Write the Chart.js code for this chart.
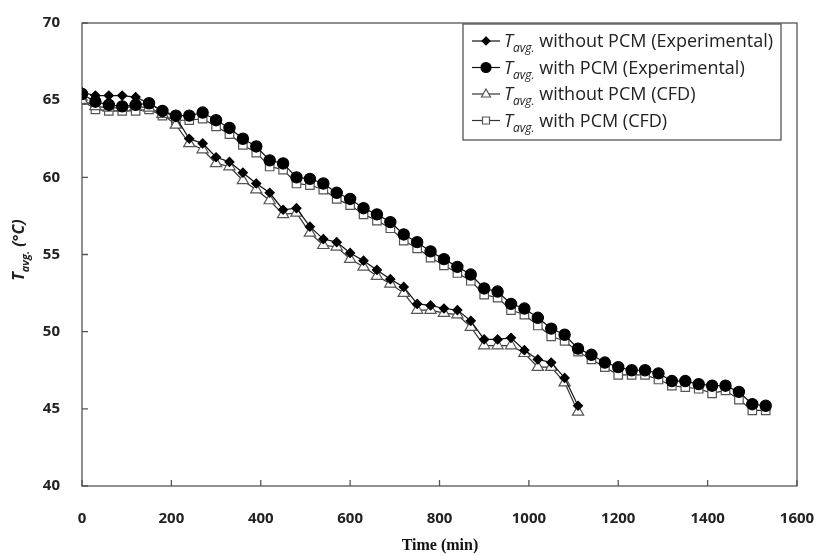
<!DOCTYPE html>
<html>
<head>
<meta charset="utf-8">
<script src="https://cdn.jsdelivr.net/npm/chart.js@4.4.1/dist/chart.umd.min.js"></script>
<style>
  html, body { margin: 0; padding: 0; background: #fff; }
  canvas { display: block; }
</style>
</head>
<body>
<canvas id="tempChart" width="816" height="556"></canvas>
<script>
// time stamps (min), readings every 30 min
var timeMin = [0, 30, 60, 90, 120, 150, 180, 210, 240, 270, 300, 330, 360, 390, 420, 450,
    480, 510, 540, 570, 600, 630, 660, 690, 720, 750, 780, 810, 840, 870, 900, 930, 960,
    990, 1020, 1050, 1080, 1110, 1140, 1170, 1200, 1230, 1260, 1290, 1320, 1350, 1380,
    1410, 1440, 1470, 1500, 1530];

// average temperature (deg C)
var noPcmExp = [65.5, 65.3, 65.3, 65.3, 65.2, 64.8, 64.3, 63.9, 62.5, 62.2, 61.3, 61.0,
    60.3, 59.6, 59.0, 57.9, 58.0, 56.8, 56.0, 55.8, 55.1, 54.6, 54.0, 53.4, 52.9, 51.8,
    51.7, 51.5, 51.4, 50.7, 49.5, 49.5, 49.6, 48.8, 48.2, 48.0, 47.0, 45.2];
var pcmExp = [65.4, 64.9, 64.7, 64.6, 64.7, 64.8, 64.3, 64.0, 64.0, 64.2, 63.7, 63.2,
    62.5, 62.0, 61.1, 60.9, 60.0, 59.9, 59.6, 59.0, 58.6, 58.0, 57.6, 57.1, 56.3, 55.8,
    55.2, 54.7, 54.2, 53.7, 52.8, 52.6, 51.8, 51.5, 50.9, 50.2, 49.8, 48.9, 48.5, 48.0,
    47.7, 47.5, 47.5, 47.3, 46.8, 46.8, 46.6, 46.5, 46.5, 46.1, 45.3, 45.2];
var noPcmCfd = [65.0, 64.6, 64.5, 64.5, 64.6, 64.5, 64.1, 63.4, 62.2, 61.8, 60.9, 60.7,
    59.8, 59.2, 58.5, 57.6, 57.7, 56.4, 55.6, 55.5, 54.7, 54.2, 53.6, 53.1, 52.5, 51.4,
    51.4, 51.2, 51.1, 50.3, 49.1, 49.1, 49.1, 48.6, 47.7, 47.7, 46.7, 44.8];
var pcmCfd = [65.0, 64.4, 64.3, 64.3, 64.3, 64.4, 64.0, 63.7, 63.7, 63.8, 63.3, 62.8,
    62.1, 61.6, 60.7, 60.5, 59.6, 59.5, 59.2, 58.6, 58.2, 57.6, 57.2, 56.7, 55.9, 55.4,
    54.8, 54.3, 53.8, 53.3, 52.4, 52.2, 51.4, 51.1, 50.4, 49.7, 49.4, 48.7, 48.2, 47.7,
    47.2, 47.2, 47.2, 46.9, 46.5, 46.4, 46.3, 46.0, 46.2, 45.6, 44.9, 44.9];

var seriesNames = ["without PCM (Experimental)", "with PCM (Experimental)",
    "without PCM (CFD)", "with PCM (CFD)"];
var xTicks = [0, 200, 400, 600, 800, 1000, 1200, 1400, 1600];
var yTicks = [40, 45, 50, 55, 60, 65, 70];

function toPoints(values) {
    return values.map(function (v, i) { return { x: timeMin[i], y: v }; });
}

var styles = [
    { pointStyle: "rectRot", pointRadius: 4.5, backgroundColor: "#000", borderColor: "#000", lineColor: "#111" },
    { pointStyle: "circle", pointRadius: 5.6, backgroundColor: "#000", borderColor: "#000", lineColor: "#111" },
    { pointStyle: "triangle", pointRadius: 6.5, backgroundColor: "#fff", borderColor: "#555", lineColor: "#333" },
    { pointStyle: "rect", pointRadius: 6, backgroundColor: "#fff", borderColor: "#555", lineColor: "#333" }
];

var allSeries = [noPcmExp, pcmExp, noPcmCfd, pcmCfd];
var datasets = allSeries.map(function (vals, i) {
    var s = styles[i];
    return {
        label: "Tavg. " + seriesNames[i],
        data: toPoints(vals),
        borderColor: s.lineColor,
        borderWidth: 1.2,
        pointStyle: s.pointStyle,
        pointRadius: s.pointRadius,
        pointBackgroundColor: s.backgroundColor,
        pointBorderColor: s.borderColor,
        pointBorderWidth: 1.2,
        tension: 0,
        fill: false
    };
});

var tickFont = { family: "'Open Sans', sans-serif", size: 15, weight: "bold" };

// plot frame plus inward tick marks
var frame = {
    id: "frame",
    beforeDatasetsDraw: function (chart) {
        var ctx = chart.ctx;
        var a = chart.chartArea;
        ctx.save();
        ctx.strokeStyle = "#555";
        ctx.lineWidth = 1.3;
        ctx.strokeRect(a.left, a.top, a.right - a.left, a.bottom - a.top);
        ctx.beginPath();
        xTicks.forEach(function (t) {
            var px = chart.scales.x.getPixelForValue(t);
            ctx.moveTo(px, a.bottom);
            ctx.lineTo(px, a.bottom - 6);
        });
        yTicks.forEach(function (t) {
            var py = chart.scales.y.getPixelForValue(t);
            ctx.moveTo(a.left, py);
            ctx.lineTo(a.left + 6, py);
        });
        ctx.stroke();
        ctx.restore();
    }
};

function drawMarker(ctx, s, x, y, r) {
    ctx.save();
    ctx.fillStyle = s.backgroundColor;
    ctx.strokeStyle = s.borderColor;
    ctx.lineWidth = 1.2;
    ctx.beginPath();
    if (s.pointStyle === "circle") {
        ctx.arc(x, y, r, 0, Math.PI * 2);
    } else if (s.pointStyle === "rectRot") {
        ctx.moveTo(x, y - r); ctx.lineTo(x + r, y); ctx.lineTo(x, y + r); ctx.lineTo(x - r, y);
        ctx.closePath();
    } else if (s.pointStyle === "triangle") {
        ctx.moveTo(x, y - r); ctx.lineTo(x + r * 0.9, y + r * 0.6); ctx.lineTo(x - r * 0.9, y + r * 0.6);
        ctx.closePath();
    } else {
        ctx.rect(x - r * 0.7, y - r * 0.7, r * 1.4, r * 1.4);
    }
    ctx.fill();
    ctx.stroke();
    ctx.restore();
}

// writes "T" with an "avg." subscript, returns the width used
function drawTavg(ctx, x, y, size, bold) {
    var w = bold ? "bold " : "";
    ctx.font = "italic " + w + size + "px 'Open Sans', sans-serif";
    ctx.fillText("T", x, y);
    var tw = ctx.measureText("T").width;
    ctx.font = "italic " + w + Math.round(size * 0.66) + "px 'Open Sans', sans-serif";
    ctx.fillText("avg.", x + tw, y + size * 0.3);
    return tw + ctx.measureText("avg.").width;
}

var labels = {
    id: "labels",
    afterDraw: function (chart) {
        var ctx = chart.ctx;
        ctx.save();
        ctx.fillStyle = "#222";
        ctx.textBaseline = "alphabetic";
        ctx.textAlign = "left";

        // legend box
        var bx = 463, by = 24, bw = 318, bh = 116;
        ctx.fillStyle = "#fff";
        ctx.fillRect(bx, by, bw, bh);
        ctx.strokeStyle = "#555";
        ctx.lineWidth = 1.3;
        ctx.strokeRect(bx, by, bw, bh);
        for (var i = 0; i < 4; i++) {
            var cy = by + 17 + i * 26.5;
            ctx.strokeStyle = styles[i].lineColor;
            ctx.lineWidth = 1.2;
            ctx.beginPath();
            ctx.moveTo(bx + 9, cy);
            ctx.lineTo(bx + 37, cy);
            ctx.stroke();
            drawMarker(ctx, styles[i], bx + 23, cy, i === 0 ? 4 : 5);
            ctx.fillStyle = "#222";
            var tx = bx + 41;
            var used = drawTavg(ctx, tx, cy + 6, 18, false);
            ctx.font = "18px 'Open Sans', sans-serif";
            ctx.fillText(" " + seriesNames[i], tx + used, cy + 6);
        }

        // y axis title, rotated
        ctx.fillStyle = "#222";
        ctx.translate(24, 250);
        ctx.rotate(-Math.PI / 2);
        ctx.font = "italic bold 16px 'Open Sans', sans-serif";
        var total = ctx.measureText("T").width;
        ctx.font = "italic bold 11px 'Open Sans', sans-serif";
        total += ctx.measureText("avg.").width;
        ctx.font = "italic bold 16px 'Open Sans', sans-serif";
        total += ctx.measureText(" (°C)").width;
        var sx = -total / 2;
        var u = drawTavg(ctx, sx, 0, 16, true);
        ctx.font = "italic bold 16px 'Open Sans', sans-serif";
        ctx.fillText(" (°C)", sx + u, 0);
        ctx.restore();

        // x axis title
        ctx.save();
        ctx.fillStyle = "#111";
        ctx.font = "bold 16px 'Liberation Serif', serif";
        ctx.textAlign = "center";
        ctx.fillText("Time (min)", 440, 550);
        ctx.restore();
    }
};

new Chart(document.getElementById("tempChart").getContext("2d"), {
    type: "line",
    data: { datasets: datasets },
    options: {
        responsive: false,
        animation: false,
        layout: { padding: { top: 15, right: 0, left: 0, bottom: 0 } },
        plugins: { legend: { display: false }, tooltip: { enabled: false } },
        scales: {
            x: {
                type: "linear",
                min: 0,
                max: 1600,
                afterBuildTicks: function (scale) {
                    scale.ticks = xTicks.map(function (v) { return { value: v }; });
                },
                afterFit: function (scale) {
                    scale.height = 70;
                    // keep the plot edge at a fixed distance from the canvas edge
                    scale.paddingLeft = 0;
                    scale.paddingRight = 19;
                },
                grid: { display: false },
                border: { display: false },
                ticks: {
                    font: tickFont, color: "#222", padding: 16, maxRotation: 0,
                    callback: function (v) { return String(v); }
                }
            },
            y: {
                min: 40,
                max: 70,
                afterBuildTicks: function (scale) {
                    scale.ticks = yTicks.map(function (v) { return { value: v }; });
                },
                afterFit: function (scale) { scale.width = 82; },
                grid: { display: false },
                border: { display: false },
                ticks: { font: tickFont, color: "#222", padding: 14 }
            }
        }
    },
    plugins: [frame, labels]
});
</script>
</body>
</html>
